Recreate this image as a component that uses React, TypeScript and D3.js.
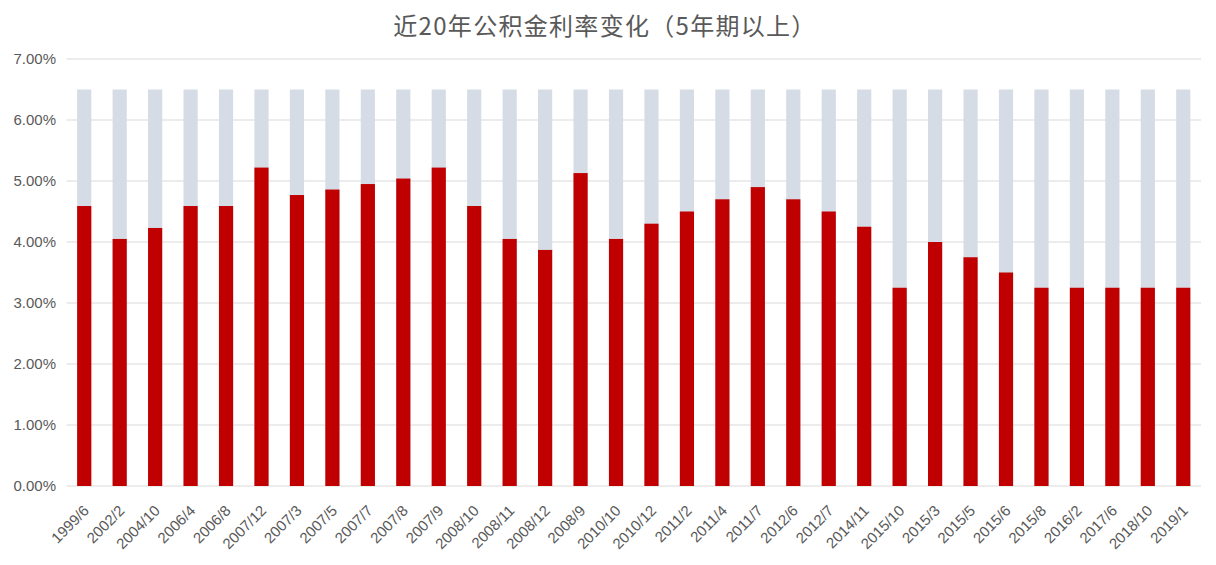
import React from "react";
import * as d3 from "d3";

const categories = ["1999/6","2002/2","2004/10","2006/4","2006/8","2007/12","2007/3","2007/5","2007/7","2007/8","2007/9","2008/10","2008/11","2008/12","2008/9","2010/10","2010/12","2011/2","2011/4","2011/7","2012/6","2012/7","2014/11","2015/10","2015/3","2015/5","2015/6","2015/8","2016/2","2017/6","2018/10","2019/1"];
const rates = [4.59,4.05,4.23,4.59,4.59,5.22,4.77,4.86,4.95,5.04,5.22,4.59,4.05,3.87,5.13,4.05,4.30,4.50,4.70,4.90,4.70,4.50,4.25,3.25,4.00,3.75,3.50,3.25,3.25,3.25,3.25,3.25];
const backgroundValue = 6.5;
const yTicks = [0,1,2,3,4,5,6,7];
const title = "近20年公积金利率变化（5年期以上）";

export default function App() {
  const W = 1216, H = 565;
  const left = 66.5, right = 1201, top = 59, bottom = 486;
  const x = d3.scaleBand<string>().domain(categories).range([left, right]).paddingInner(0.6).paddingOuter(0.3);
  const y = d3.scaleLinear().domain([0, 7]).range([bottom, top]);
  const bw = x.bandwidth();
  const font = "'Liberation Sans', Arial, sans-serif";
  return (
    <svg width={W} height={H} style={{ position: "absolute", left: 0, top: 0, background: "#fff" }}>
      <text x={605} y={35} textAnchor="middle" fontSize={24} letterSpacing={1.3} fill="#595959" fontFamily="'Noto Sans CJK SC', sans-serif">{title}</text>
      {yTicks.map(t => (
        <g key={t}>
          <line x1={left} x2={right} y1={y(t)} y2={y(t)} stroke="#d9d9d9" strokeWidth={1} />
          <text x={56} y={y(t)} dy="0.35em" textAnchor="end" fontSize={15} fill="#595959" fontFamily={font}>{t.toFixed(2)}%</text>
        </g>
      ))}
      {categories.map((c, i) => (
        <g key={c}>
          <rect x={x(c)!} width={bw} y={y(backgroundValue)} height={y(0) - y(backgroundValue)} fill="#d6dce5" />
          <rect x={x(c)!} width={bw} y={y(rates[i])} height={y(0) - y(rates[i])} fill="#c00000" />
        </g>
      ))}
      {categories.map(c => {
        const cx = x(c)! + bw / 2 + 2;
        return (
          <text key={c} transform={`translate(${cx},${bottom + 22}) rotate(-45)`} textAnchor="end" dy="0.35em" fontSize={15} fill="#595959" fontFamily={font}>{c}</text>
        );
      })}
    </svg>
  );
}
